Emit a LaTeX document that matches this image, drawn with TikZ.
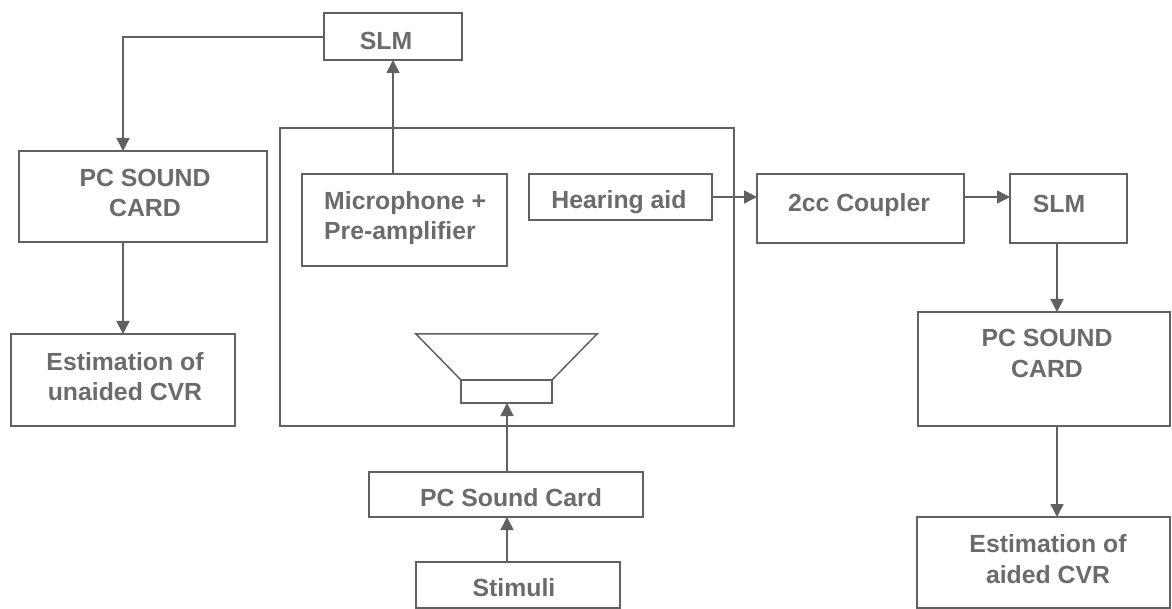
\documentclass[tikz,border=0pt]{standalone}
\usepackage{fontspec}
\setmainfont{Liberation Sans}
\usetikzlibrary{arrows.meta}
\definecolor{ink}{gray}{0.38}
\definecolor{txt}{gray}{0.42}
\tikzset{x=1pt,y=-1pt,
box/.style={draw=ink,line width=1.5pt,inner sep=0pt,outer sep=0pt},
lab/.style={text=txt,font=\bfseries\fontsize{24.8}{30.5}\selectfont,align=center,inner sep=0pt},
arr/.style={draw=ink,line width=1.5pt,-{Triangle[length=13pt,width=13pt]}}}
\newcommand{\bx}[5]{\node[box,minimum width=#4pt-#2pt,minimum height=#5pt-#3pt,anchor=north west] (#1) at (#2,#3) {};}
\begin{document}
\begin{tikzpicture}
\useasboundingbox (0,0) rectangle (1172,609);
\bx{slma}{324}{13}{462}{60}
\bx{pca}{19}{151}{267}{242}
\bx{esta}{11}{334}{235}{426}
\bx{room}{280}{128}{734}{426}
\bx{mic}{302}{174}{507}{266}
\bx{ha}{529}{174}{712}{220}
\bx{coup}{757}{174}{964}{243}
\bx{slmb}{1010}{174}{1127}{243}
\bx{pcb}{918}{312}{1170}{426}
\bx{estb}{917}{517}{1170}{608}
\bx{spk}{461}{380}{552}{403}
\bx{pcc}{369}{472}{643}{517}
\bx{stim}{416}{562}{620}{608}
\node[lab] (tslma) at (386,41) {SLM};
\node[lab] (tpca) at (145,193) {PC SOUND\\CARD};
\node[lab] (testa) at (125,376.5) {Estimation of\\unaided CVR};
\node[lab,align=left,anchor=west] (tmic) at (324,218) {Microphone +\\Pre-amplifier};
\node[lab] (tha) at (619,202) {Hearing aid};
\node[lab] (tcoup) at (859,205.5) {2cc Coupler};
\node[lab] (tslmb) at (1059,204) {SLM};
\node[lab] (tpcb) at (1047,353.5) {PC SOUND\\CARD};
\node[lab] (testb) at (1048,559) {Estimation of\\aided CVR};
\node[lab] (tpcc) at (511,498) {PC Sound Card};
\node[lab] (tstim) at (514,588) {Stimuli};
\draw[box] (spk.north west) -- (416,334) -- (597,334) -- (spk.north east);
\coordinate (c1) at (123,37);
\draw[arr] (slma.west |- c1) -- (c1) -- (c1 |- pca.north);
\draw[arr] (c1 |- pca.south) -- (c1 |- esta.north);
\coordinate (c2) at (393,100);
\draw[arr] (c2 |- mic.north) -- (c2 |- slma.south);
\coordinate (c3) at (0,197);
\draw[arr] (ha.east |- c3) -- (coup.west |- c3);
\draw[arr] (coup.east |- c3) -- (slmb.west |- c3);
\coordinate (c4) at (1057,300);
\draw[arr] (c4 |- slmb.south) -- (c4 |- pcb.north);
\draw[arr] (c4 |- pcb.south) -- (c4 |- estb.north);
\coordinate (c5) at (507,450);
\draw[arr] (c5 |- pcc.north) -- (c5 |- spk.south);
\draw[arr] (c5 |- stim.north) -- (c5 |- pcc.south);
\end{tikzpicture}
\end{document}
